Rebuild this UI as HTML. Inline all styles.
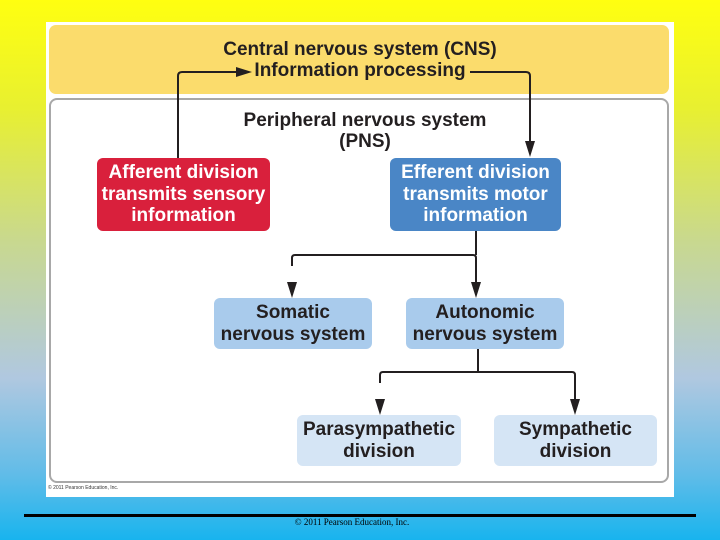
<!DOCTYPE html>
<html><head><style>
body{margin:0;width:720px;height:540px;overflow:hidden;position:relative;font-family:"Liberation Sans",sans-serif;
background:linear-gradient(to bottom,#ffff10 0%,#e8f030 20%,#c8d890 45%,#b0c8e0 70%,#60bce8 88%,#18b4ee 100%);}
.b{position:absolute;box-sizing:border-box;text-align:center;font-weight:bold;font-size:19px;line-height:21.5px;color:#231f20;display:flex;align-items:center;justify-content:center;border-radius:6px;white-space:nowrap}
</style></head><body>
<div style="position:absolute;left:46px;top:22px;width:628px;height:475px;background:#fff"></div>
<div style="position:absolute;left:49px;top:25px;width:620px;height:69px;background:#fbdc6c;border-radius:7px"></div>
<div style="position:absolute;left:49px;top:98px;width:620px;height:385px;border:2px solid #a8a8a8;border-radius:8px;box-sizing:border-box;background:#fff"></div>
<div class="b" style="left:150px;top:38px;width:420px;height:44px">Central nervous system (CNS)<br>Information processing</div>
<div class="b" style="left:200px;top:109px;width:330px;height:44px">Peripheral nervous system<br>(PNS)</div>
<div class="b" style="left:97px;top:158px;width:173px;height:73px;background:#d9203c;color:#fff">Afferent division<br>transmits sensory<br>information</div>
<div class="b" style="left:390px;top:158px;width:171px;height:73px;background:#4a86c6;color:#fff">Efferent division<br>transmits motor<br>information</div>
<div class="b" style="left:214px;top:298px;width:158px;height:51px;background:#a9cbec">Somatic<br>nervous system</div>
<div class="b" style="left:406px;top:298px;width:158px;height:51px;background:#a9cbec">Autonomic<br>nervous system</div>
<div class="b" style="left:297px;top:415px;width:164px;height:51px;background:#d5e5f5">Parasympathetic<br>division</div>
<div class="b" style="left:494px;top:415px;width:163px;height:51px;background:#d5e5f5">Sympathetic<br>division</div>
<svg style="position:absolute;left:0;top:0" width="720" height="540">
<g fill="none" stroke="#231f20" stroke-width="2">
<path d="M178 158V76q0-4 4-4H240"/>
<path d="M470 72H526q4 0 4 4V145"/>
<path d="M476 231V255M292 266V258q0-3 3-3H473q3 0 3 3V287"/>
<path d="M478 349V372M380 383V375q0-3 3-3H572q3 0 3 3V404"/>
</g>
<g fill="#231f20">
<path d="M236 67L252 72L236 77Z"/>
<path d="M525 141L530 157L535 141Z"/>
<path d="M287 282L292 298L297 282Z"/><path d="M471 282L476 298L481 282Z"/>
<path d="M375 399L380 415L385 399Z"/><path d="M570 399L575 415L580 399Z"/>
</g>
<rect x="24" y="514" width="672" height="3" fill="#000"/>
</svg>
<div style="position:absolute;left:48px;top:485px;font-size:5px;color:#333">© 2011 Pearson Education, Inc.</div>
<div style="position:absolute;left:0;width:704px;top:517px;text-align:center;font-family:'Liberation Serif',serif;font-size:9px;color:#000">© 2011 Pearson Education, Inc.</div>
</body></html>
